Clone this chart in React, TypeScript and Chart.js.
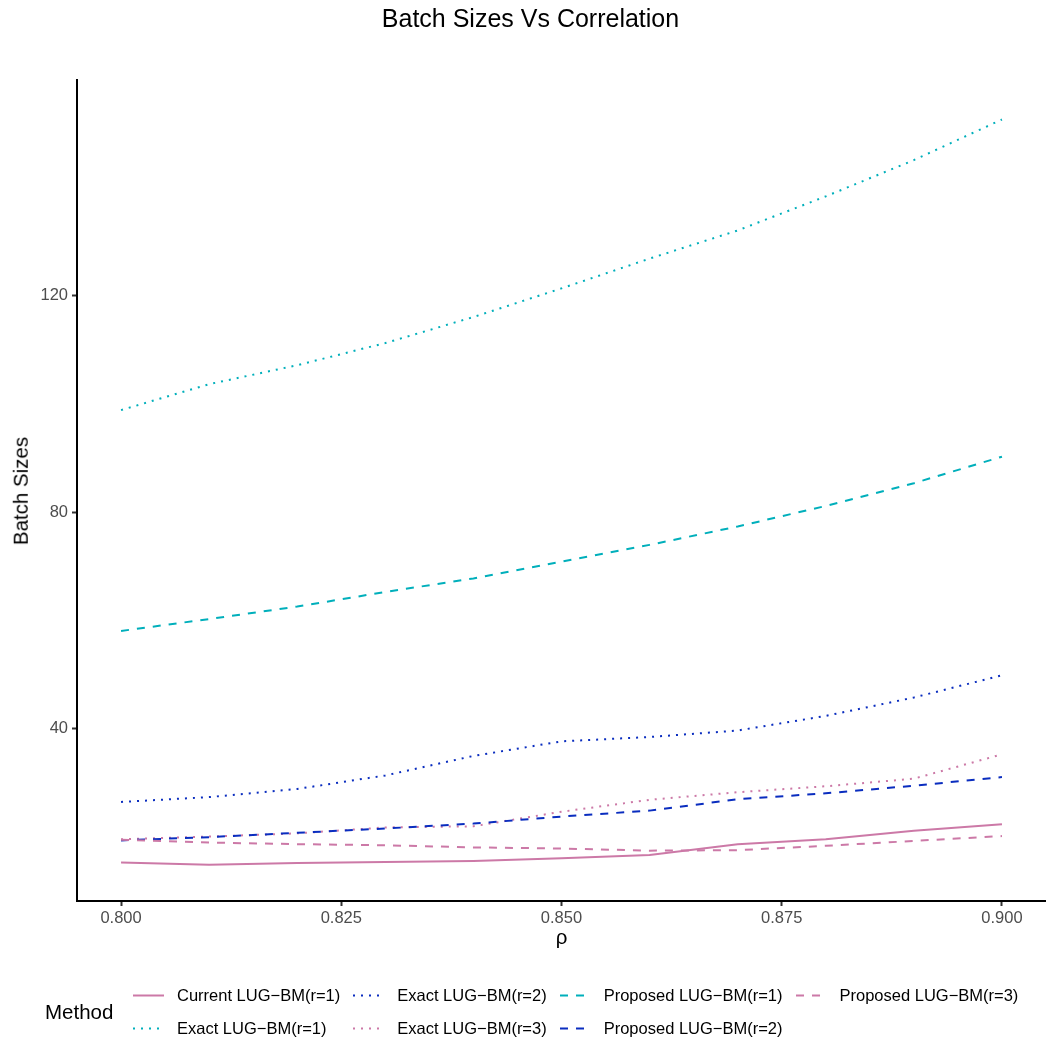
import React, { useEffect, useRef } from "react";
import { Chart, registerables } from "chart.js";

Chart.register(...registerables);

const FONT = '"Liberation Sans", Arial, Helvetica, sans-serif';

const rho = [0.8, 0.81, 0.82, 0.83, 0.84, 0.85, 0.86, 0.87, 0.88, 0.89, 0.9];

const currentR1 = [15.3, 14.9, 15.2, 15.4, 15.6, 16.1, 16.7, 18.7, 19.6, 21.2, 22.4];
const exactR1 = [98.9, 103.7, 107.2, 111.3, 116.1, 121.4, 126.9, 132.1, 138.4, 145.1, 152.6];
const exactR2 = [26.5, 27.4, 28.9, 31.4, 35.0, 37.7, 38.5, 39.7, 42.4, 45.8, 49.9];
const exactR3 = [19.6, 20.1, 20.7, 21.8, 22.0, 24.7, 26.9, 28.3, 29.4, 30.8, 35.3];
const proposedR1 = [58.1, 60.3, 62.6, 65.3, 67.8, 70.9, 74.0, 77.4, 81.2, 85.4, 90.3];
const proposedR2 = [19.4, 20.0, 20.8, 21.6, 22.5, 23.8, 24.9, 27.0, 28.1, 29.5, 31.1];
const proposedR3 = [19.5, 19.0, 18.7, 18.5, 18.1, 17.9, 17.5, 17.6, 18.4, 19.3, 20.2];

const xTicks = [0.8, 0.825, 0.85, 0.875, 0.9];
const yTicks = [40, 80, 120];

const PINK = "#CC79A7";
const TEAL = "#00AFBB";
const BLUE = "#0A2DBF";
const DOT = [2, 6];
const DASH = [8, 8];

const series = [
  { label: "Current LUG\u2212BM(r=1)", values: currentR1, color: PINK, dash: [] as number[] },
  { label: "Exact LUG\u2212BM(r=1)", values: exactR1, color: TEAL, dash: DOT },
  { label: "Exact LUG\u2212BM(r=2)", values: exactR2, color: BLUE, dash: DOT },
  { label: "Exact LUG\u2212BM(r=3)", values: exactR3, color: PINK, dash: DOT },
  { label: "Proposed LUG\u2212BM(r=1)", values: proposedR1, color: TEAL, dash: DASH },
  { label: "Proposed LUG\u2212BM(r=2)", values: proposedR2, color: BLUE, dash: DASH },
  { label: "Proposed LUG\u2212BM(r=3)", values: proposedR3, color: PINK, dash: DASH },
];

const W = 1046;
const H = 1044;
const PLOT_TOP = 80;
const PLOT_BOTTOM = 901;
const Y_AXIS_W = 77;
const X_AXIS_H = 30;

export default function App() {
  const ref = useRef<HTMLCanvasElement | null>(null);

  useEffect(() => {
    if (!ref.current) return;
    const n = series.length;
    const chart = new Chart(ref.current, {
      type: "line",
      data: {
        datasets: series.map((s, i) => ({
          label: s.label,
          data: rho.map((x, j) => ({ x, y: s.values[j] })),
          borderColor: s.color,
          backgroundColor: s.color,
          borderWidth: 2,
          borderDash: s.dash,
          borderCapStyle: "butt" as const,
          borderJoinStyle: "round" as const,
          pointRadius: 0,
          tension: 0,
          fill: false,
          order: n - i,
        })),
      },
      options: {
        animation: false,
        responsive: false,
        devicePixelRatio: 1,
        layout: {
          padding: { top: PLOT_TOP, left: 0, right: 0, bottom: H - PLOT_BOTTOM - X_AXIS_H },
        },
        plugins: {
          legend: { display: false },
          tooltip: { enabled: false },
          title: { display: false },
        },
        scales: {
          x: {
            type: "linear",
            min: 0.795,
            max: 0.905,
            afterBuildTicks: (s: any) => {
              s.ticks = xTicks.map((v) => ({ value: v }));
            },
            afterFit: (s: any) => {
              s.height = X_AXIS_H;
            },
            ticks: {
              callback: (v: any) => Number(v).toFixed(3),
              color: "#4d4d4d",
              font: { family: FONT, size: 16.5 },
              padding: 3,
              maxRotation: 0,
              autoSkip: false,
            },
            grid: {
              drawOnChartArea: false,
              drawTicks: true,
              tickLength: 5,
              tickWidth: 2,
              color: "#333333",
            },
            border: { display: true, color: "#000000", width: 2 },
          },
          y: {
            type: "linear",
            min: 8.2,
            max: 159.9,
            afterBuildTicks: (s: any) => {
              s.ticks = yTicks.map((v) => ({ value: v }));
            },
            afterFit: (s: any) => {
              s.width = Y_AXIS_W;
            },
            ticks: {
              callback: (v: any) => String(v),
              color: "#4d4d4d",
              font: { family: FONT, size: 16.5 },
              padding: 4,
              autoSkip: false,
            },
            grid: {
              drawOnChartArea: false,
              drawTicks: true,
              tickLength: 5,
              tickWidth: 2,
              color: "#333333",
            },
            border: { display: true, color: "#000000", width: 2 },
          },
        },
      },
    } as any);
    return () => chart.destroy();
  }, []);

  const plotCenterY = (PLOT_TOP + PLOT_BOTTOM) / 2;

  return (
    <div
      style={{
        position: "absolute",
        left: 0,
        top: 0,
        width: W,
        height: H,
        background: "#ffffff",
        fontFamily: FONT,
        overflow: "hidden",
      }}
    >
      <canvas
        ref={ref}
        width={W}
        height={H}
        style={{ position: "absolute", left: 0, top: 0, width: W, height: H }}
      />
      <div
        style={{
          position: "absolute",
          left: 530.5,
          top: 5.8,
          transform: "translateX(-50%)",
          fontSize: 25,
          lineHeight: 1,
          color: "#000",
          whiteSpace: "nowrap",
        }}
      >
        Batch Sizes Vs Correlation
      </div>
      <div
        style={{
          position: "absolute",
          left: 20.5,
          top: plotCenterY,
          transform: "translate(-50%, -50%) rotate(-90deg)",
          fontSize: 20.5,
          lineHeight: 1,
          color: "#000",
          whiteSpace: "nowrap",
        }}
      >
        Batch Sizes
      </div>
      <div
        style={{
          position: "absolute",
          left: 561.5,
          top: 927.2,
          transform: "translateX(-50%)",
          fontSize: 20.5,
          lineHeight: 1,
          color: "#000",
          whiteSpace: "nowrap",
        }}
      >
        ρ
      </div>
      <div
        style={{
          position: "absolute",
          left: 45,
          top: 1002,
          fontSize: 20.5,
          lineHeight: 1,
          color: "#000",
          whiteSpace: "nowrap",
        }}
      >
        Method
      </div>
      <div
        style={{
          position: "absolute",
          left: 133,
          top: 978.5,
          display: "grid",
          gridTemplateRows: "repeat(2, 33px)",
          gridAutoFlow: "column",
          columnGap: 13,
        }}
      >
        {series.map((s) => (
          <div
            key={s.label}
            style={{ display: "flex", alignItems: "center", height: 33, whiteSpace: "nowrap" }}
          >
            <svg width={31} height={33} style={{ display: "block", marginRight: 13 }}>
              <line
                x1={0}
                x2={31}
                y1={16.5}
                y2={16.5}
                stroke={s.color}
                strokeWidth={2}
                strokeDasharray={s.dash.length ? s.dash.join(" ") : undefined}
              />
            </svg>
            <span style={{ fontSize: 16.5, lineHeight: 1, color: "#000" }}>{s.label}</span>
          </div>
        ))}
      </div>
    </div>
  );
}
